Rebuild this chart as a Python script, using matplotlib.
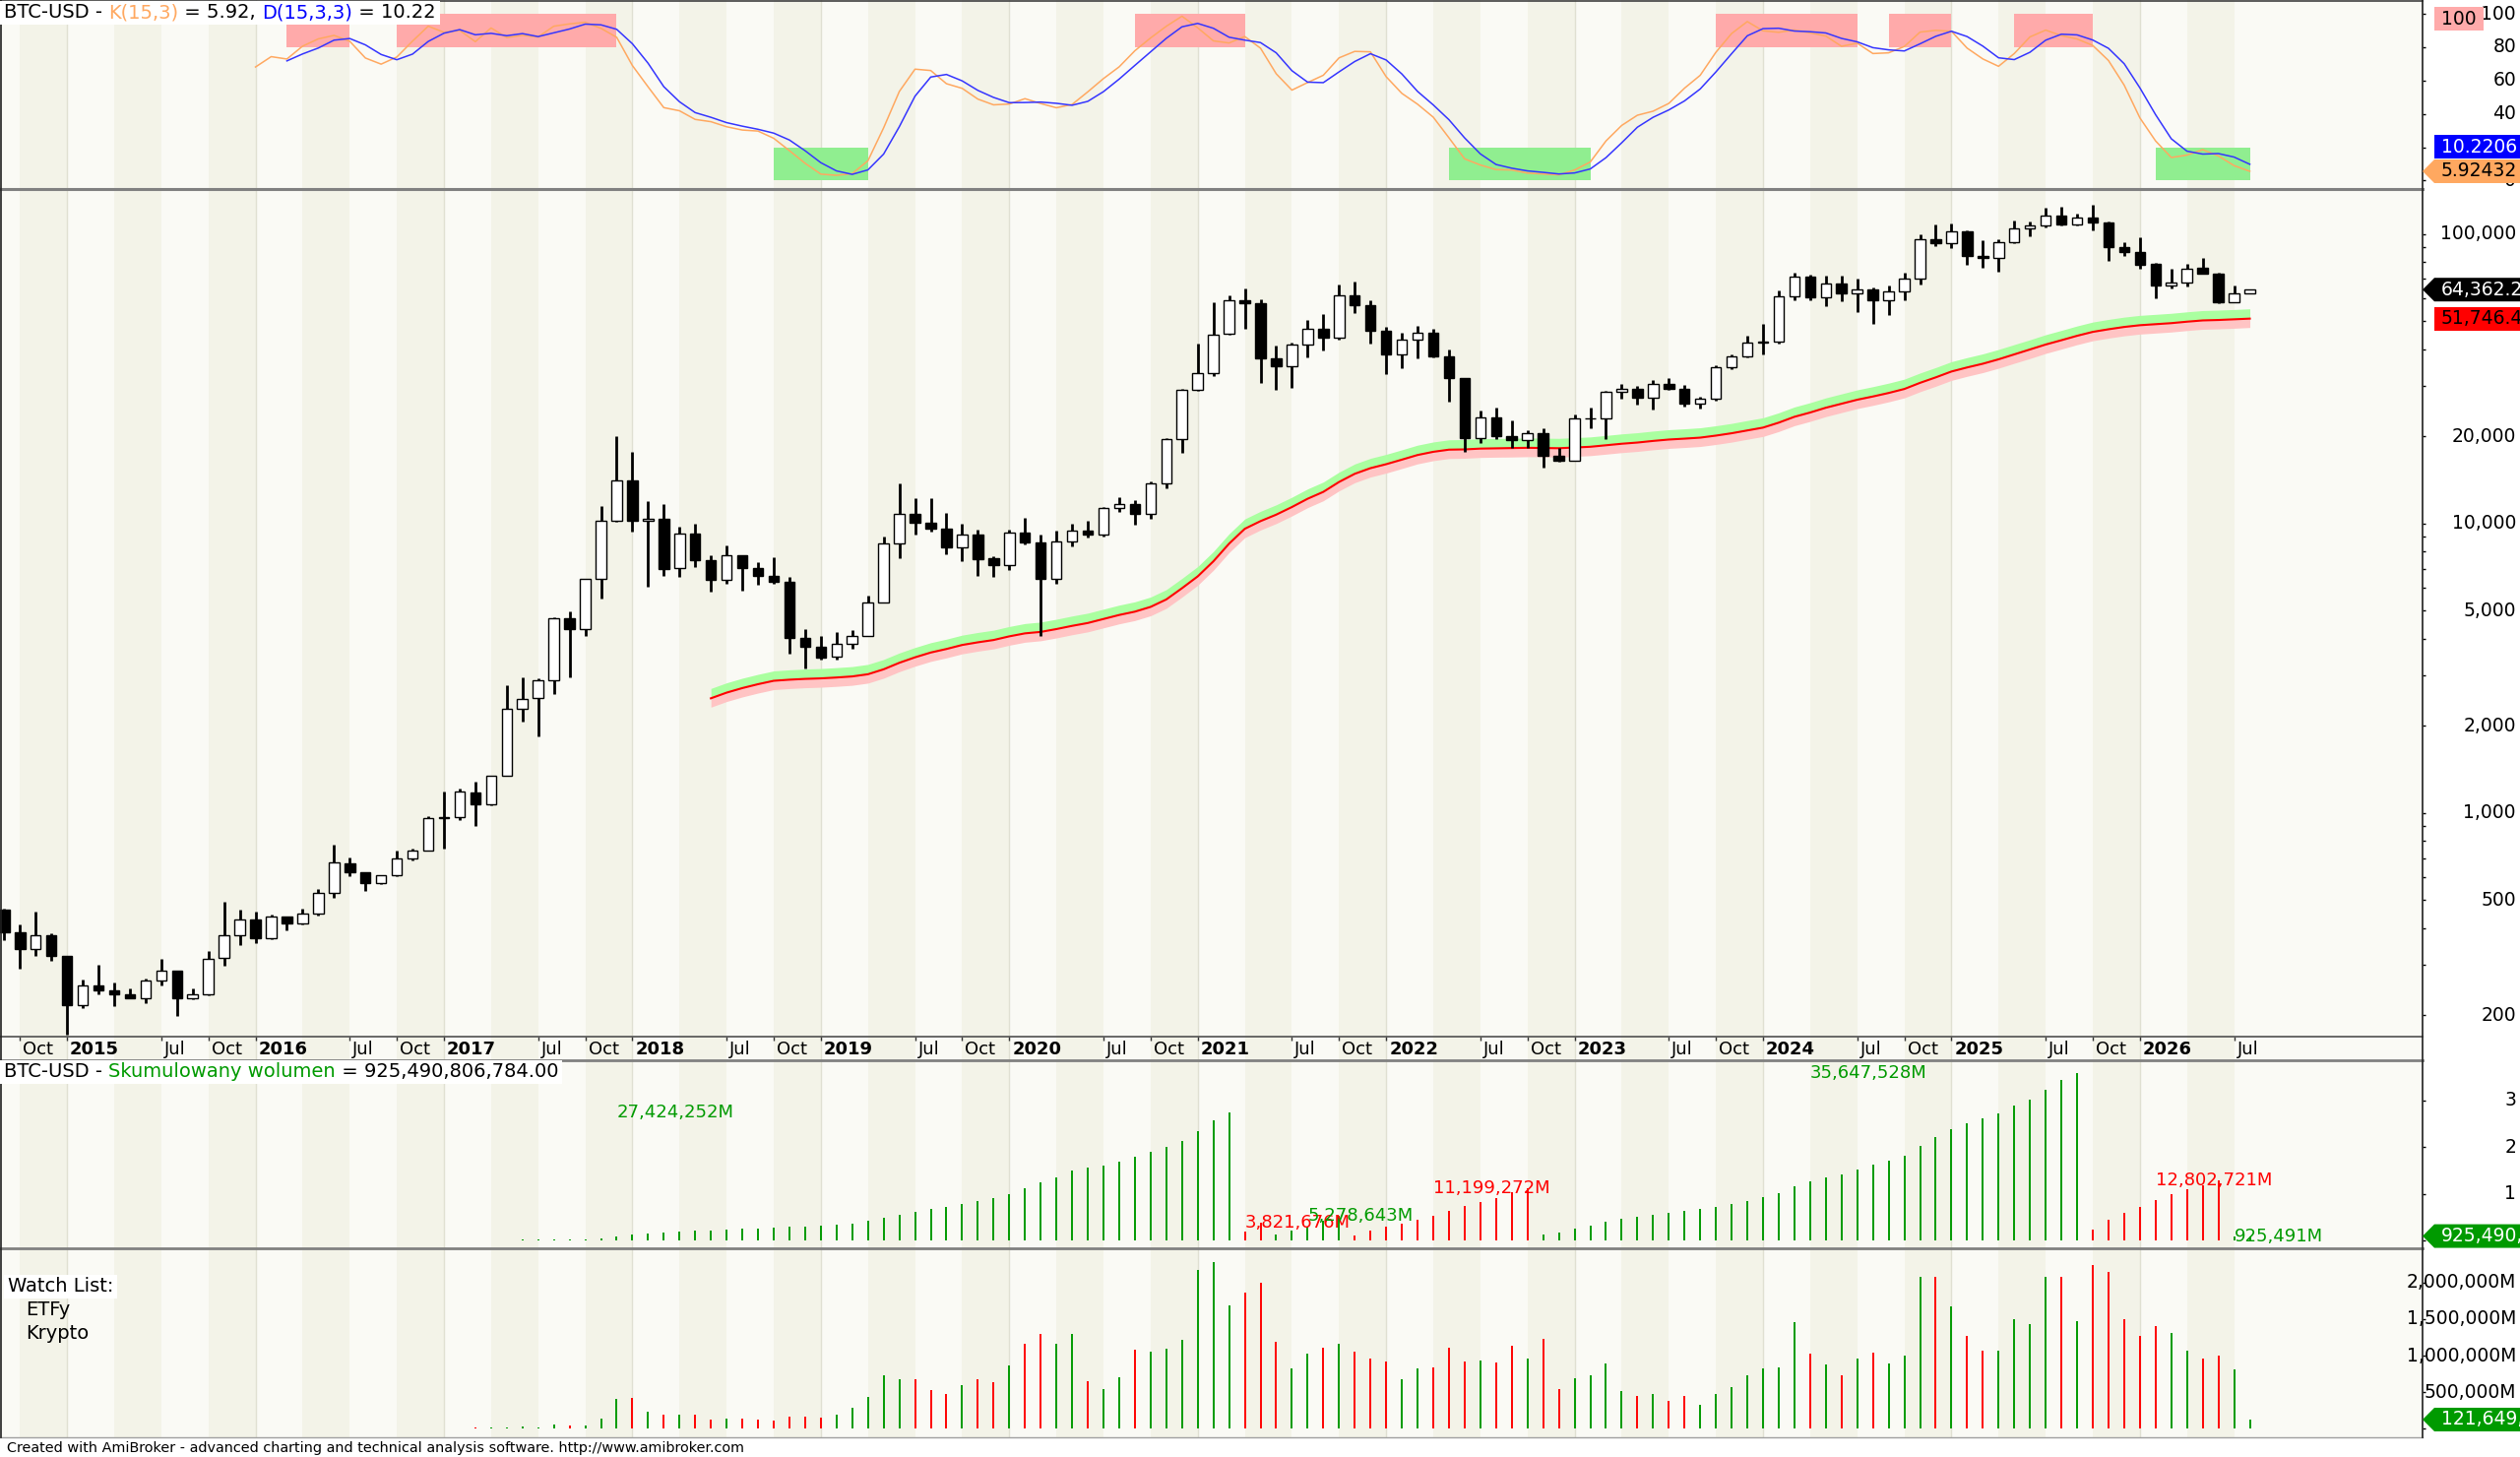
import numpy as np
import pandas as pd
import matplotlib
matplotlib.use("Agg")
import matplotlib.pyplot as plt
import matplotlib.transforms as mtransforms
from matplotlib.lines import Line2D
from matplotlib.patches import Polygon, Rectangle

plt.rcParams['font.family'] = ['DejaVu Sans']

# --- monthly BTC-USD bars, Sep 2014 .. Aug 2026 ---
months = pd.date_range("2014-09-01", periods=144, freq="MS")

opens = [465.9, 387.4, 338.7, 378.2,
         320.4, 216.9, 254.3, 244.2, 235.9, 230.2, 263.4, 284.7, 230.0, 236.0, 315.0, 377.4,
         430.7, 369.4, 437.9, 416.8, 448.5, 531.1, 672.5, 624.6, 575.5, 609.9, 698.7, 742.3,
         963.7, 970.9, 1180.0, 1071.7, 1348.3, 2288.3, 2492.6, 2871.3, 4701.8, 4341.1, 6440.0, 10198.6,
         14112.2, 10237.3, 10385.0, 7003.1, 9251.5, 7500.7, 6411.7, 7769.0, 7044.8, 6619.9, 6318.1, 4024.5,
         3746.7, 3460.5, 3853.8, 4105.4, 5350.9, 8573.8, 10796.9, 10077.4, 9630.6, 8299.7, 9193.0, 7571.6,
         7194.9, 9346.4, 8599.5, 6437.3, 8672.8, 9463.6, 9145.9, 11322.6, 11679.7, 10795.3, 13780.0, 19633.8,
         28994.0, 33114.6, 45159.5, 58926.6, 57825.9, 37293.8, 35035.0, 41460.8, 47099.8, 43816.7, 61320.4, 56907.9,
         46311.7, 38481.8, 43194.5, 45554.2, 37713.3, 31792.6, 19820.5, 23336.7, 20050.5, 19431.1, 20494.9, 17168.0,
         16547.9, 23150.9, 23150.9, 28473.3, 29227.1, 27218.4, 30471.8, 29230.9, 25934.0, 26967.4, 34657.3, 37718.0,
         42280.2, 42569.8, 61168.1, 71333.5, 60609.5, 67489.6, 62673.6, 64625.8, 58969.8, 63335.6, 70216.9, 96461.3,
         93425.1, 102402.8, 84373.0, 82551.9, 94210.2, 104637.3, 107135.3, 115758.2, 108236.7, 114056.1, 109556.2, 90400.0,
         87100.0, 78800.0, 66500.0, 68000.0, 76300.0, 73300.0, 58400.0, 62600.0]
highs = [468.2, 411.7, 457.1, 384.0,
         320.4, 265.6, 300.0, 261.0, 247.8, 267.9, 314.4, 284.7, 247.8, 334.2, 495.6, 465.3,
         456.1, 448.0, 439.7, 466.6, 548.0, 777.8, 704.0, 626.1, 612.0, 742.0, 756.0, 979.4,
         1191.1, 1215.0, 1280.0, 1347.9, 2763.7, 2950.0, 2916.1, 4736.1, 4975.0, 6470.4, 11517.4, 20089.0,
         17712.4, 11958.5, 11710.8, 9745.3, 9964.5, 7754.9, 8424.3, 7769.0, 7388.4, 7680.0, 6552.2, 4309.4,
         4109.0, 4210.6, 4296.8, 5642.0, 9008.3, 13796.5, 12273.8, 12273.8, 10898.8, 10021.7, 9505.1, 7743.4,
         9553.1, 10458.0, 9167.7, 9440.7, 10034.6, 10199.6, 11415.9, 12359.1, 12067.1, 14028.2, 19749.3, 29244.9,
         41946.7, 58330.6, 61683.9, 64863.1, 59463.0, 41295.3, 42235.5, 50482.1, 52853.8, 66930.4, 68789.6, 59041.7,
         47827.3, 45661.2, 48086.8, 47313.7, 39902.9, 31957.3, 24572.6, 25135.6, 22673.8, 20988.4, 21446.9, 18318.5,
         23919.9, 25134.1, 28840.1, 30485.1, 29820.1, 31390.0, 31814.5, 30176.8, 27459.0, 35150.4, 38415.3, 44705.5,
         48969.4, 63913.1, 73750.1, 72715.4, 71946.5, 71907.9, 70014.0, 65593.2, 66480.7, 73577.2, 99655.5, 108268.4,
         109114.9, 102755.0, 95043.4, 95768.4, 111970.2, 110530.2, 123091.6, 124457.1, 117900.0, 126198.1, 111000.0, 94200.0,
         97700.0, 79400.0, 75900.0, 79200.0, 82800.0, 73800.0, 66500.0, 64700.0]
lows = [364.3, 289.3, 320.6, 309.0,
        171.5, 212.0, 236.5, 214.9, 228.6, 221.3, 253.5, 199.6, 227.0, 235.6, 298.0, 351.0,
        354.9, 367.0, 394.0, 411.9, 444.2, 510.6, 606.3, 540.0, 570.8, 604.1, 689.0, 741.0,
        755.8, 946.7, 903.7, 1061.1, 1348.3, 2076.4, 1843.0, 2581.0, 2946.6, 4108.4, 5519.0, 10129.7,
        9402.3, 6048.3, 6600.1, 6526.9, 7090.7, 5826.4, 6181.0, 5880.8, 6142.9, 6189.0, 3559.3, 3156.0,
        3400.8, 3400.0, 3707.2, 4097.0, 5332.1, 7583.3, 9163.1, 9421.6, 7830.8, 7446.9, 6617.2, 6540.0,
        6914.0, 8492.9, 4106.9, 6202.4, 8374.3, 8975.5, 9047.0, 11012.4, 9916.5, 10416.7, 13243.2, 17619.5,
        28722.8, 32384.2, 45115.1, 47159.5, 30681.5, 28893.6, 29360.0, 37458.0, 39787.6, 43320.0, 53569.8, 42000.3,
        32933.3, 34459.2, 37260.2, 37697.9, 26350.5, 17708.6, 18966.9, 19600.8, 18290.3, 18319.8, 15599.0, 16398.1,
        16521.2, 21451.4, 19628.3, 27070.8, 25878.4, 24797.2, 28934.3, 25409.1, 24930.0, 26558.3, 34170.7, 37629.4,
        38555.0, 41884.5, 59323.9, 59120.1, 56555.3, 58601.7, 53717.4, 49121.2, 52598.7, 58946.0, 66803.6, 91317.1,
        89256.7, 78258.7, 76625.8, 74436.7, 93397.2, 98241.0, 105295.2, 107471.1, 107255.0, 103000.0, 81000.0, 84300.0,
        76200.0, 60000.0, 65200.0, 66000.0, 72800.0, 57900.0, 58100.0, 62400.0]
closes = [386.9, 338.3, 378.0, 320.2,
          217.5, 254.3, 244.2, 236.1, 230.2, 263.1, 284.6, 230.1, 236.1, 314.2, 377.3, 430.6,
          368.8, 437.7, 416.7, 448.3, 531.4, 673.3, 624.7, 575.5, 609.7, 698.7, 742.5, 963.7,
          970.4, 1190.0, 1071.8, 1347.9, 2286.4, 2480.8, 2875.3, 4703.4, 4338.7, 6468.4, 10233.6, 14156.4,
          10221.1, 10397.9, 6973.5, 9240.6, 7494.2, 6404.0, 7780.4, 7037.6, 6625.6, 6317.6, 4017.3, 3742.7,
          3457.8, 3854.8, 4105.4, 5350.7, 8574.5, 10817.2, 10085.6, 9630.7, 8293.9, 9199.6, 7569.6, 7193.6,
          9350.5, 8599.5, 6438.6, 8658.6, 9461.1, 9138.0, 11323.5, 11680.8, 10784.5, 13781.0, 19625.8, 29001.7,
          33114.4, 45137.8, 58918.8, 57750.2, 37332.9, 35040.8, 41626.2, 47166.7, 43790.9, 61318.9, 57005.4, 46306.4,
          38483.1, 43193.2, 45538.7, 37714.9, 31792.3, 19784.7, 23336.9, 20049.8, 19431.8, 20495.8, 17168.6, 16547.5,
          23139.3, 23147.4, 28478.5, 29268.8, 27219.7, 30477.3, 29230.1, 25931.5, 26967.9, 34667.8, 37712.7, 42265.2,
          42582.6, 61198.4, 71333.6, 60636.9, 67491.4, 62678.3, 64619.2, 58969.9, 63329.5, 70215.2, 96449.1, 93429.2,
          102405.0, 84373.0, 82548.9, 94207.3, 104638.1, 107135.3, 115758.2, 108236.7, 114056.1, 109556.2, 90400.0, 87100.0,
          78400.0, 66500.0, 68000.0, 75800.0, 73000.0, 58400.0, 62300.0, 64362.2]

# monthly volume, billions of USD (bottom pane)
volume_bn = [0.3, 0.9, 0.8, 0.6,
             1.8, 0.7, 0.9, 0.6, 0.5, 0.6, 1.1, 1.1, 0.6, 1.3, 3.0, 1.7,
             1.7, 1.7, 2.0, 2.0, 2.5, 5.0, 3.0, 2.3, 2.3, 2.5, 3.0, 3.5,
             5.0, 4.2, 14, 12, 22, 36, 22, 58, 45, 45, 135, 404,
             418, 233, 193, 193, 193, 126, 135, 135, 121, 112, 162, 171,
             157, 193, 292, 440, 727, 674, 674, 525, 480, 593, 674, 638,
             862, 1167, 1293, 1158, 1293, 651, 539, 709, 1082, 1055, 1091, 1217,
             2169, 2281, 1684, 1863, 1998, 1190, 822, 1024, 1109, 1158, 1055, 956,
             920, 674, 831, 840, 1114, 920, 934, 902, 1136, 961, 1235, 539,
             691, 727, 889, 516, 445, 480, 382, 445, 328, 480, 566, 727,
             822, 835, 1455, 1024, 876, 727, 961, 1046, 889, 1001, 2074, 2074,
             1675, 1271, 1064, 1069, 1504, 1432, 2083, 2074, 1468, 2245, 2146, 1504,
             1271, 1405, 1311, 1069, 961, 1001, 808, 126]

# cumulative-volume runs: first bar of each run, colour, and the label printed at its peak
cum_run_starts = [0, 79, 81, 86, 98, 133, 142]
cum_run_up = [True, False, True, False, True, False, True]
cum_peak_labels = ["27,424,252M", "3,821,676M", "5,278,643M", "11,199,272M",
                   "35,647,528M", "12,802,721M", "925,491M"]

# stochastic zones (bar index ranges) shaded on the chart
overbought_spans = [(18, 22), (25, 39), (72, 79), (109, 118), (120, 124), (128, 133)]
oversold_spans = [(49, 55), (92, 101), (137, 143)]

# --- layout (pixels) ---
W, H = 2560, 1480
X_AXIS = 2461
LIGHT, DARK, GRID = "#FAFAF5", "#F3F3E8", "#E0E0D2"
GREEN, RED = "#009A00", "#FF0000"
K_COLOR, D_COLOR = "#FFA860", "#3535FF"

fig = plt.figure(figsize=(W / 100, H / 100), dpi=100, facecolor="white")

n = len(closes)
idx = np.arange(n)
o, h, l, c = (np.array(a, dtype=float) for a in (opens, highs, lows, closes))
vol = np.array(volume_bn, dtype=float)
month_no = np.asarray(months.month)


def add_panel(top, bottom):
    ax = fig.add_axes([0, 1 - bottom / H, X_AXIS / W, (bottom - top) / H])
    ax.set_xlim(-0.27, 154.0)
    ax.set_facecolor(LIGHT)
    for s in ax.spines.values():
        s.set_visible(False)
    ax.set_xticks([])
    for q in idx[(month_no == 4) | (month_no == 10)]:
        ax.axvspan(q, q + 3, color=DARK, lw=0, zorder=0)
    for j in idx[month_no == 1]:
        ax.axvline(j, color=GRID, lw=1, zorder=0.5)
    ax.tick_params(axis="y", which="both", left=False, right=True, labelleft=False,
                   labelright=False, direction="out", length=2.5, width=1)
    return ax


def axis_labels(ax, values, labels, size=13.5):
    tr = mtransforms.blended_transform_factory(fig.transFigure, ax.transData)
    for v, s in zip(values, labels):
        fig.text(2556 / W, v, s, transform=tr, ha="right", va="center", fontsize=size, zorder=3)


def value_tag(ax, value, text, face, tcolor, arrow=True, shift=0, right=W):
    y = ax.transData.transform((0, value))[1] + shift
    pts = [(X_AXIS + 12, y + 12), (right, y + 12), (right, y - 12), (X_AXIS + 12, y - 12)]
    if arrow:
        pts.append((X_AXIS, y))
    fig.add_artist(Polygon([(px / W, py / H) for px, py in pts], closed=True,
                           transform=fig.transFigure, facecolor=face, edgecolor="none", zorder=4))
    fig.text((X_AXIS + 19) / W, y / H, text, color=tcolor, fontsize=13.5,
             va="center", ha="left", zorder=5)
    return y


def rich_text(x_px, y_px, parts, size, box=True):
    renderer = fig.canvas.get_renderer()
    probe = fig.text(0, 0, "|", fontsize=size)
    bar_w = probe.get_window_extent(renderer).width

    def width(s):
        probe.set_text(s + "|")
        return probe.get_window_extent(renderer).width - bar_w

    x = x_px
    for s, col in parts:
        fig.text(x / W, 1 - y_px / H, s, color=col, fontsize=size, va="center", ha="left", zorder=6)
        x += width(s)
    probe.remove()
    if box:
        fig.add_artist(Rectangle(((x_px - 4) / W, 1 - (y_px + 12) / H), (x - x_px + 8) / W, 24 / H,
                                 transform=fig.transFigure, facecolor="white", edgecolor="none", zorder=5))


# --- indicators ---
cs, hs, ls = pd.Series(c), pd.Series(h), pd.Series(l)
raw_k = 100 * (cs - ls.rolling(15).min()) / (hs.rolling(15).max() - ls.rolling(15).min())
stoch_k = raw_k.rolling(3).mean()
stoch_d = stoch_k.rolling(3).mean()


def wilders(values, period):
    out = np.full(len(values), np.nan)
    out[period - 1] = values[:period].mean()
    for i in range(period, len(values)):
        out[i] = out[i - 1] + (values[i] - out[i - 1]) / period
    return out


ma_line = wilders(c, 46)

run_id = np.searchsorted(cum_run_starts, idx, side="right") - 1
cum_vol = pd.Series(vol).groupby(run_id).cumsum().to_numpy()

# --- stochastic pane ---
ax_st = add_panel(0, 192)
ax_st.set_ylim(-5.1, 108.3)
for s, e in overbought_spans:
    ax_st.add_patch(Rectangle((s, 80), e - s, 20, facecolor="#FFAAAA", edgecolor="none", zorder=1))
for s, e in oversold_spans:
    ax_st.add_patch(Rectangle((s, 0), e - s, 20, facecolor="#90EE90", edgecolor="none", zorder=1))
ax_st.plot(idx, stoch_k, color=K_COLOR, lw=1.1, zorder=2)
ax_st.plot(idx, stoch_d, color=D_COLOR, lw=1.1, zorder=3)
st_ticks = [0, 20, 40, 60, 80, 100]
ax_st.set_yticks(st_ticks)
# the "20" label sits under the D value tag, so only the visible ones are written
axis_labels(ax_st, [0, 40, 60, 80, 100], ["0", "40", "60", "80", "100"])

# --- price pane ---
ax_pr = add_panel(192, 1053)
ax_pr.set_yscale("log")
ax_pr.set_ylim(169, 143300)
price_ticks = [200, 500, 1000, 2000, 5000, 10000, 20000, 50000, 100000]
minor_ticks = [m * 10 ** e for e in range(2, 6) for m in (3, 4, 6, 7, 8, 9) if m * 10 ** e < 143000]
ax_pr.set_yticks(price_ticks)
ax_pr.set_yticks(minor_ticks, minor=True)
ax_pr.yaxis.set_minor_formatter(matplotlib.ticker.NullFormatter())
label_ticks = [200, 500, 1000, 2000, 5000, 10000, 20000, 100000]
axis_labels(ax_pr, label_ticks, [f"{v:,}" for v in label_ticks])

ax_pr.fill_between(idx, ma_line, ma_line * 1.0815, color="#AAFFA0", lw=0, zorder=1)
ax_pr.fill_between(idx, ma_line / 1.073, ma_line, color="#FFC4C4", lw=0, zorder=1)
ax_pr.plot(idx, ma_line, color="red", lw=1.5, zorder=2)

up = c >= o
ax_pr.vlines(idx, l, h, color="black", lw=2.0, zorder=3)
ax_pr.bar(idx, np.abs(c - o), bottom=np.minimum(o, c), width=0.66,
          color=np.where(up, "white", "black"), edgecolor="black", lw=1.0, zorder=4)

# --- date row ---
ax_dt = add_panel(1053, 1077)
ax_dt.set_ylim(0, 1)
ax_dt.tick_params(axis="y", right=False)
lab_tr = mtransforms.offset_copy(ax_dt.transData, fig=fig, x=3, y=0, units="dots")
tick_pos = idx[(month_no == 1) | (month_no == 7) | (month_no == 10)]
ax_dt.vlines(tick_pos, 0.85, 1.0, color="#333333", lw=1)
for i in tick_pos:
    if month_no[i] == 1:
        ax_dt.text(i, 0.45, str(months[i].year), transform=lab_tr, fontsize=13,
                   fontweight="bold", ha="left", va="center")
    else:
        ax_dt.text(i, 0.45, months[i].strftime("%b"), transform=lab_tr, fontsize=13,
                   ha="left", va="center")

# --- cumulative volume pane ---
ax_cv = add_panel(1077, 1268)
ax_cv.set_ylim(-1688, 38608)
cum_colors = np.where(np.array(cum_run_up)[run_id], GREEN, RED)
ax_cv.vlines(idx, 0, cum_vol, colors=cum_colors, lw=1.4, zorder=2)
run_ends = list(np.array(cum_run_starts[1:]) - 1) + [n - 1]
for s, e, upr, txt in zip(cum_run_starts, run_ends, cum_run_up, cum_peak_labels):
    ax_cv.text((s + e) // 2, cum_vol[e], txt, color=GREEN if upr else RED,
               fontsize=13, ha="left", va="center", zorder=3)
cv_ticks = [0, 10000, 20000, 30000]
ax_cv.set_yticks(cv_ticks)
axis_labels(ax_cv, cv_ticks[1:], ["1", "2", "3"])

# --- monthly volume pane ---
ax_vo = add_panel(1268, 1460)
ax_vo.set_ylim(-117, 2470)
prev_c = np.concatenate([[o[0]], c[:-1]])
vol_colors = np.where(c >= prev_c, GREEN, RED)
ax_vo.vlines(idx, 0, vol, colors=vol_colors, lw=1.4, zorder=2)
vo_ticks = [0, 500, 1000, 1500, 2000]
ax_vo.set_yticks(vo_ticks)
axis_labels(ax_vo, vo_ticks[1:], ["500,000M", "1,000,000M", "1,500,000M", "2,000,000M"])

# --- value tags on the right axis ---
value_tag(ax_st, 100, "100", "#FFAAAA", "black", arrow=False, shift=-5, right=2523)
yk = value_tag(ax_st, stoch_k.iloc[-1], "5.92432", K_COLOR, "black")
yd_shift = (yk + 24.5) - ax_st.transData.transform((0, stoch_d.iloc[-1]))[1]
value_tag(ax_st, stoch_d.iloc[-1], "10.2206", "#0000FF", "white", arrow=False, shift=yd_shift)
value_tag(ax_pr, c[-1], "64,362.2", "black", "white")
value_tag(ax_pr, ma_line[-1], "51,746.4", "red", "black", arrow=False)
value_tag(ax_cv, cum_vol[-1], "925,490,806,784", GREEN, "white")
value_tag(ax_vo, vol[-1], "121,649,000,000", GREEN, "white")

# --- titles and notes ---
rich_text(4, 13, [("BTC-USD - ", "black"), ("K(15,3)", K_COLOR), (" = 5.92, ", "black"),
                  ("D(15,3,3)", "#0000FF"), (" = 10.22", "black")], 14)
rich_text(4, 1089, [("BTC-USD - ", "black"), ("Skumulowany wolumen", GREEN),
                    (" = 925,490,806,784.00", "black")], 14)
rich_text(8, 1307, [("Watch List:", "black")], 14)
fig.text(26 / W, 1 - 1331 / H, "ETFy", fontsize=14, va="center")
fig.text(26 / W, 1 - 1354 / H, "Krypto", fontsize=14, va="center")
fig.text(7 / W, 1 - 1471 / H, "Created with AmiBroker - advanced charting and technical analysis "
         "software. http://www.amibroker.com", fontsize=10.4, va="center")

# --- frame lines ---
def hline(y_px, color, lw, x1=X_AXIS):
    fig.add_artist(Line2D([0, x1 / W], [1 - y_px / H] * 2, color=color, lw=lw, zorder=2))


hline(1, "#404040", 1.2)
hline(192, "#808080", 2.2)
hline(1053, "#505050", 1.2)
hline(1077, "#808080", 2.0)
hline(1268, "#808080", 2.0)
hline(1460, "#A0A0A0", 1.0)
fig.add_artist(Line2D([1 / W] * 2, [1 - 1460 / H, 1], color="#202020", lw=1.2, zorder=2))
fig.add_artist(Line2D([X_AXIS / W] * 2, [1 - 1460 / H, 1], color="#202020", lw=1.2, zorder=2))

fig.savefig("out.png", dpi=100, facecolor="white")
